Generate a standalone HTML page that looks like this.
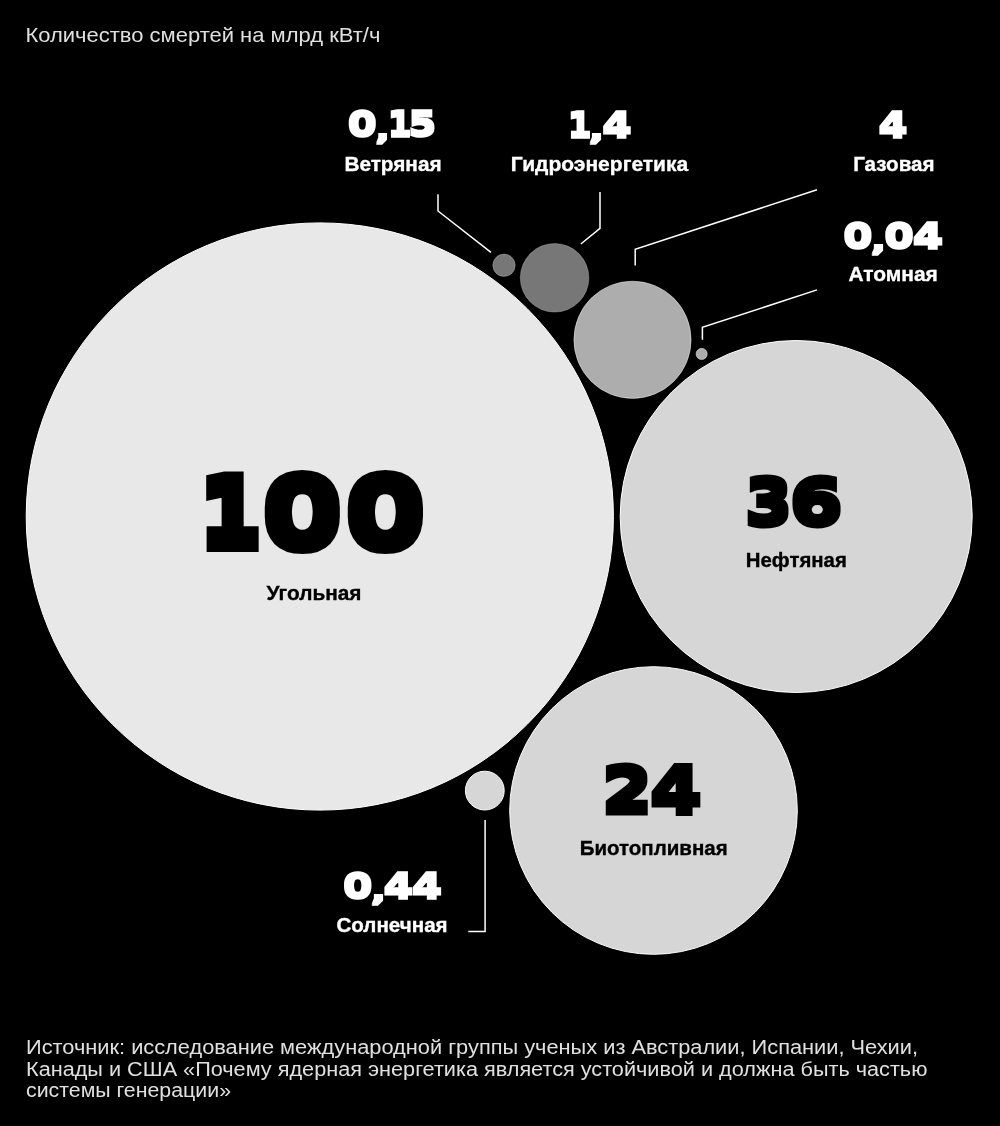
<!DOCTYPE html>
<html lang="ru">
<head>
<meta charset="utf-8">
<title>Количество смертей на млрд кВт/ч</title>
<style>
html,body{margin:0;padding:0;background:#000;}
body{width:1000px;height:1126px;overflow:hidden;position:relative;}
svg{display:block;position:absolute;left:0;top:0;}
.num{font-family:"DejaVu Sans","Liberation Sans",sans-serif;font-weight:bold;stroke-linejoin:miter;stroke-miterlimit:4;}
.k{fill:#000;stroke:#000;}
.w{fill:#fff;stroke:#fff;}
.lab{font-family:"Liberation Sans",sans-serif;font-weight:bold;}
.reg{font-family:"Liberation Sans",sans-serif;font-weight:normal;}
</style>
</head>
<body>
<svg width="1000" height="1126" viewBox="0 0 1000 1126">
<defs>
<filter id="d4" x="-10%" y="-25%" width="120%" height="150%"><feMorphology operator="dilate" radius="0 4"/></filter>
<filter id="d2" x="-10%" y="-25%" width="120%" height="150%"><feMorphology operator="dilate" radius="0 2"/></filter>
<filter id="d1" x="-10%" y="-25%" width="120%" height="150%"><feMorphology operator="dilate" radius="0 1"/></filter>
</defs>
<rect width="1000" height="1126" fill="#000"/>
<!-- bubbles -->
<g stroke="#fff" stroke-width="1">
<circle cx="319.8" cy="516.5" r="293.6" fill="#e8e8e8"/>
<circle cx="796.2" cy="516.5" r="176" fill="#d6d6d6"/>
<circle cx="653.5" cy="810.5" r="143.8" fill="#d6d6d6"/>
<circle cx="484.8" cy="790.6" r="19.4" fill="#d6d6d6"/>
</g>
<g stroke="#fff" stroke-opacity="0.45" stroke-width="1">
<circle cx="632.5" cy="339.8" r="58.6" fill="#adadad"/>
<circle cx="701.65" cy="353.95" r="5.6" fill="#adadad"/>
</g>
<g stroke="#fff" stroke-opacity="0.25" stroke-width="1">
<circle cx="554.6" cy="277.8" r="34.3" fill="#777"/>
<circle cx="504" cy="265.3" r="11.2" fill="#777"/>
</g>
<!-- leader lines -->
<g fill="none" stroke="#fff" stroke-width="1.5">
<polyline points="438,194.2 438,211 491,252.4"/>
<polyline points="600,192 600,228.4 580.8,244"/>
<polyline points="635.2,265.4 635.2,249.3 817,189.8"/>
<polyline points="702.4,339.8 702.4,327.3 817,289.9"/>
<polyline points="485.1,820 485.1,931.5 468.3,931.5"/>
</g>
<!-- title -->
<text class="reg" x="25.4" y="41.9" font-size="20.2" fill="#fff" fill-opacity="0.88" textLength="355" lengthAdjust="spacingAndGlyphs">Количество смертей на млрд кВт/ч</text>
<!-- values -->
<text class="num k" y="546.75" font-size="94.9" stroke-width="4.24" filter="url(#d4)"><tspan x="199.10" textLength="62.93" lengthAdjust="spacingAndGlyphs" dy="-2.00" font-size="90.5" stroke-width="6">1</tspan><tspan x="261.82" textLength="81.15" lengthAdjust="spacingAndGlyphs" dy="2.00">0</tspan><tspan x="344.72" textLength="81.26" lengthAdjust="spacingAndGlyphs">0</tspan></text>
<text class="num k" y="523.90" font-size="62.4" stroke-width="3.0" filter="url(#d2)"><tspan x="744.67" textLength="47.52" lengthAdjust="spacingAndGlyphs">3</tspan><tspan x="789.49" textLength="53.39" lengthAdjust="spacingAndGlyphs">6</tspan></text>
<text class="num k" y="812.20" font-size="62.4" stroke-width="3.0" filter="url(#d2)"><tspan x="601.80" textLength="50.57" lengthAdjust="spacingAndGlyphs">2</tspan><tspan x="650.04" textLength="51.99" lengthAdjust="spacingAndGlyphs">4</tspan></text>
<text class="num w" y="136.40" font-size="34.0" stroke-width="1.6" filter="url(#d1)"><tspan x="347.79" textLength="29.03" lengthAdjust="spacingAndGlyphs">0</tspan><tspan x="375.73" textLength="13.82" lengthAdjust="spacingAndGlyphs" dy="2.30" font-size="25">,</tspan><tspan x="387.75" textLength="23.80" lengthAdjust="spacingAndGlyphs" dy="-2.30">1</tspan><tspan x="408.34" textLength="28.02" lengthAdjust="spacingAndGlyphs">5</tspan></text>
<text class="num w" y="136.80" font-size="34.0" stroke-width="1.6" filter="url(#d1)"><tspan x="567.75" textLength="23.80" lengthAdjust="spacingAndGlyphs">1</tspan><tspan x="589.39" textLength="14.48" lengthAdjust="spacingAndGlyphs" dy="2.30" font-size="25">,</tspan><tspan x="602.29" textLength="29.45" lengthAdjust="spacingAndGlyphs" dy="-2.30">4</tspan></text>
<text class="num w" y="136.80" font-size="34.0" stroke-width="1.6" filter="url(#d1)"><tspan x="878.51" textLength="29.03" lengthAdjust="spacingAndGlyphs">4</tspan></text>
<text class="num w" y="248.00" font-size="34.0" stroke-width="1.6" filter="url(#d1)"><tspan x="843.38" textLength="29.24" lengthAdjust="spacingAndGlyphs">0</tspan><tspan x="871.39" textLength="14.48" lengthAdjust="spacingAndGlyphs" dy="2.30" font-size="25">,</tspan><tspan x="884.16" textLength="29.67" lengthAdjust="spacingAndGlyphs" dy="-2.30">0</tspan><tspan x="912.66" textLength="30.52" lengthAdjust="spacingAndGlyphs">4</tspan></text>
<text class="num w" y="898.00" font-size="34.0" stroke-width="1.6" filter="url(#d1)"><tspan x="342.97" textLength="29.46" lengthAdjust="spacingAndGlyphs">0</tspan><tspan x="371.39" textLength="14.48" lengthAdjust="spacingAndGlyphs" dy="2.30" font-size="25">,</tspan><tspan x="383.48" textLength="29.88" lengthAdjust="spacingAndGlyphs" dy="-2.30">4</tspan><tspan x="412.07" textLength="30.09" lengthAdjust="spacingAndGlyphs">4</tspan></text>
<!-- labels -->
<g fill="#000" stroke="#000" stroke-width="0.35">
<text class="lab" x="266.4" y="600.2" font-size="20.5" textLength="95.1" lengthAdjust="spacingAndGlyphs">Угольная</text>
<text class="lab" x="745.8" y="566.6" font-size="20.5" textLength="101.0" lengthAdjust="spacingAndGlyphs">Нефтяная</text>
<text class="lab" x="579.8" y="855.4" font-size="20.5" textLength="147.8" lengthAdjust="spacingAndGlyphs">Биотопливная</text>
</g>
<g fill="#fff" stroke="#fff" stroke-width="0.35">
<text class="lab" x="336.4" y="932" font-size="20.5" textLength="111.2" lengthAdjust="spacingAndGlyphs">Солнечная</text>
<text class="lab" x="344.4" y="170.8" font-size="20.5" textLength="97.2" lengthAdjust="spacingAndGlyphs">Ветряная</text>
<text class="lab" x="510.8" y="170.8" font-size="20.5" textLength="177.4" lengthAdjust="spacingAndGlyphs">Гидроэнергетика</text>
<text class="lab" x="853.2" y="171" font-size="20.5" textLength="81.4" lengthAdjust="spacingAndGlyphs">Газовая</text>
<text class="lab" x="848.4" y="281.4" font-size="20.5" textLength="89.4" lengthAdjust="spacingAndGlyphs">Атомная</text>
</g>
<!-- source -->
<g class="reg" fill="#fff" fill-opacity="0.88" font-size="20">
<text x="26" y="1054.3" textLength="892" lengthAdjust="spacingAndGlyphs">Источник: исследование международной группы ученых из Австралии, Испании, Чехии,</text>
<text x="26" y="1075.6" textLength="901.4" lengthAdjust="spacingAndGlyphs">Канады и США «Почему ядерная энергетика является устойчивой и должна быть частью</text>
<text x="26" y="1097" textLength="205" lengthAdjust="spacingAndGlyphs">системы генерации»</text>
</g>
</svg>
</body>
</html>
